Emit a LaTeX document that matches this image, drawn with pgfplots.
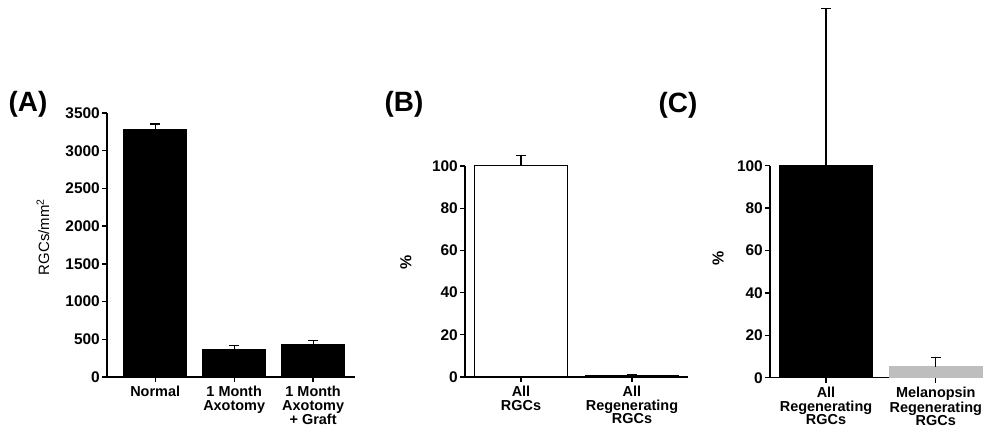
\documentclass[border=0pt]{standalone}
\usepackage{fontspec}
\setmainfont{Liberation Sans}
\usepackage{pgfplots}
\pgfplotsset{compat=1.18}
\definecolor{bargray}{RGB}{190,190,190}
\pgfplotsset{
  myax/.style={
    scale only axis,
    axis lines=left,
    axis line style={-, line width=1.3bp},
    tick align=outside,
    major tick length=5bp,
    ymin=0,
    clip=false,
    tick style={black, line width=1.3bp},
    /pgf/number format/assume math mode=true,
    /pgf/number format/1000 sep={},
    yticklabel style={font=\fontsize{15.5}{15.5}\selectfont\bfseries, inner xsep=2bp},
    xticklabel style={align=center, font=\fontsize{14.5}{13.5}\selectfont\bfseries, yshift=-1bp},
    ylabel style={anchor=center},
  },
  mybar/.style={ybar, bar shift=0pt, draw=black, line width=1bp,
    error bars/y dir=plus, error bars/y explicit,
    error bars/error mark=|,
    error bars/error bar style={line width=1.2bp, black},
    error bars/error mark options={line width=1.2bp, mark size=5bp, black}},
}
\begin{document}
\begin{tikzpicture}
\useasboundingbox (0,0) rectangle (983bp,435bp);
% Panel A
\begin{axis}[myax, at={(107bp,58bp)}, anchor=south west,
  width=248bp, height=264bp,
  xmin=-0.61, xmax=2.53, ymax=3500,
  xtick={0,1,2},
  ytick={0,500,1000,1500,2000,2500,3000,3500},
  xticklabels={Normal, 1 Month\\Axotomy, 1 Month\\Axotomy\\+ Graft},
  ylabel={RGCs/mm\textsuperscript{2}},
  ylabel style={at={(axis description cs:-0.258,0.53)}, font=\fontsize{15}{15}\selectfont},
  ]
\addplot[mybar, fill=black, bar width=0.8] coordinates {(0,3280) +- (0,75) (1,368) +- (0,48) (2,425) +- (0,55)};
\end{axis}
% Panel B
\begin{axis}[myax, at={(465bp,58bp)}, anchor=south west,
  width=223bp, height=211bp,
  xmin=-0.505, xmax=1.505, ymax=100,
  xtick={0,1},
  ytick={0,20,40,60,80,100},
  xticklabels={All\\RGCs, All\\Regenerating\\RGCs},
  ylabel={\%},
  ylabel style={at={(axis description cs:-0.265,0.545)}, font=\fontsize{16}{16}\selectfont\bfseries},
  ]
\addplot[mybar, fill=white, bar width=0.84] coordinates {(0,100) +- (0,5)};
\addplot[mybar, fill=black, bar width=0.84] coordinates {(1,0.8) +- (0,0.4)};
\end{axis}
% Panel C
\begin{axis}[myax, at={(770bp,57.3bp)}, anchor=south west,
  width=213bp, height=212bp,
  xmin=-0.51, xmax=1.43, ymax=100,
  xtick={0,1},
  ytick={0,20,40,60,80,100},
  xticklabels={All\\Regenerating\\RGCs, Melanopsin\\Regenerating\\RGCs},
  ylabel={\%},
  ylabel style={at={(axis description cs:-0.244,0.565)}, font=\fontsize{16}{16}\selectfont\bfseries},
  ]
\addplot[mybar, fill=black, bar width=0.845] coordinates {(0,100) +- (0,74)};
\addplot[mybar, fill=bargray, draw=bargray, bar width=0.845] coordinates {(1,5.2) +- (0,4.3)};
\end{axis}
\node[font=\fontsize{28}{28}\selectfont\bfseries] at (28bp,331bp) {(A)};
\node[font=\fontsize{28}{28}\selectfont\bfseries] at (404bp,331bp) {(B)};
\node[font=\fontsize{28}{28}\selectfont\bfseries] at (678bp,330bp) {(C)};
\end{tikzpicture}
\end{document}
